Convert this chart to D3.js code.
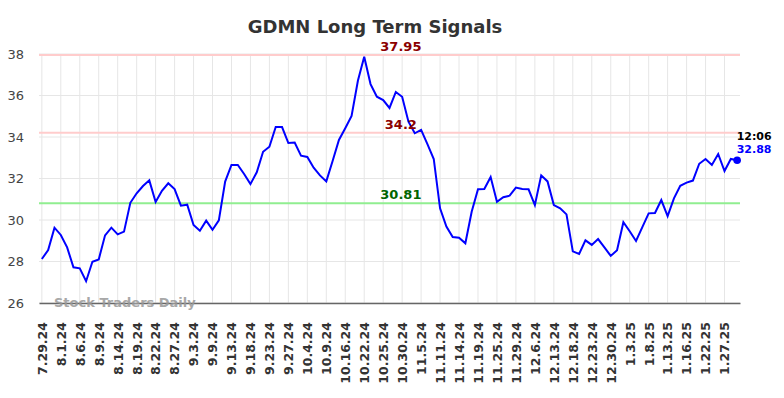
<!DOCTYPE html>
<html>
<head>
<meta charset="utf-8">
<script src="https://cdn.jsdelivr.net/npm/d3@7"></script>
<style>
  body { margin: 0; background: #fff; }
  #chart { width: 784px; height: 398px; }
  text { font-family: "DejaVu Sans", sans-serif; }
</style>
</head>
<body>
<div id="chart"></div>
<script>
// closing prices, one per session
var prices = [28.12, 28.55, 29.63, 29.28, 28.68, 27.72, 27.67, 27.05, 27.99, 28.10,
  29.26, 29.63, 29.31, 29.44, 30.83, 31.29, 31.64, 31.91, 30.87, 31.41,
  31.77, 31.49, 30.69, 30.74, 29.76, 29.48, 29.97, 29.53, 29.98, 31.85,
  32.65, 32.65, 32.22, 31.73, 32.30, 33.29, 33.53, 34.48, 34.48, 33.71,
  33.73, 33.10, 33.04, 32.52, 32.15, 31.86, 32.84, 33.86, 34.42, 35.01,
  36.71, 37.87, 36.55, 35.94, 35.78, 35.40, 36.17, 35.94, 34.74, 34.18,
  34.34, 33.66, 32.94, 30.56, 29.68, 29.18, 29.15, 28.88, 30.40, 31.48,
  31.49, 32.07, 30.88, 31.10, 31.17, 31.56, 31.49, 31.48, 30.72, 32.15,
  31.86, 30.72, 30.56, 30.27, 28.49, 28.36, 29.02, 28.80, 29.08, 28.68,
  28.27, 28.54, 29.89, 29.46, 28.99, 29.66, 30.32, 30.34, 30.96, 30.19,
  31.04, 31.65, 31.80, 31.90, 32.71, 32.94, 32.65, 33.18, 32.36, 32.94,
  32.88];

// a date label on every third session
var tickLabels = ["7.29.24", "8.1.24", "8.6.24", "8.9.24", "8.14.24", "8.19.24",
  "8.22.24", "8.27.24", "9.3.24", "9.9.24", "9.13.24", "9.18.24", "9.23.24",
  "9.27.24", "10.4.24", "10.9.24", "10.16.24", "10.22.24", "10.25.24",
  "10.30.24", "11.5.24", "11.11.24", "11.14.24", "11.19.24", "11.25.24",
  "11.29.24", "12.6.24", "12.13.24", "12.18.24", "12.23.24", "12.30.24",
  "1.3.25", "1.8.25", "1.13.25", "1.16.25", "1.22.25", "1.27.25"];
var tickStep = 3;

var yTicks = [26, 28, 30, 32, 34, 36, 38];

var signalValues = [37.95, 34.2, 30.81];
var signalLabels = ["37.95", "34.2", "30.81"];

var lastTime = "12:06";
var lastPrice = 32.88;

var w = 784, h = 398;
var margin = {top: 54, right: 44, bottom: 95, left: 39},
    width = w - margin.left - margin.right,
    height = h - margin.top - margin.bottom;

var svg = d3.select("#chart")
  .append("svg")
  .attr("width", w)
  .attr("height", h);

var g = svg.append("g")
  .attr("transform", "translate(" + margin.left + "," + margin.top + ")");

var x = d3.scaleLinear()
  .domain([-0.45, prices.length - 1 + 0.45])
  .range([0, width]);

var y = d3.scaleLinear()
  .domain([26, 38])
  .range([height, 0]);

// title
svg.append("text")
  .attr("x", 375)
  .attr("y", 33)
  .attr("text-anchor", "middle")
  .style("font-size", "18px")
  .style("font-weight", "bold")
  .style("fill", "#333")
  .text("GDMN Long Term Signals");

var tickIdx = tickLabels.map(function(d, i) { return i * tickStep; });

// grid
g.selectAll(".vgrid")
  .data(tickIdx)
  .enter()
  .append("line")
    .attr("x1", function(d) { return x(d); })
    .attr("x2", function(d) { return x(d); })
    .attr("y1", 0)
    .attr("y2", height)
    .attr("stroke", "#e6e6e6")
    .attr("stroke-width", 1);

g.selectAll(".hgrid")
  .data(yTicks)
  .enter()
  .append("line")
    .attr("x1", 0)
    .attr("x2", width)
    .attr("y1", function(d) { return y(d); })
    .attr("y2", function(d) { return y(d); })
    .attr("stroke", "#e6e6e6")
    .attr("stroke-width", 1);

// y axis labels
var yAxis = g.append("g")
  .call(d3.axisLeft(y).tickValues(yTicks).tickSize(0).tickPadding(15).tickFormat(d3.format("d")));
yAxis.select(".domain").remove();
yAxis.selectAll("text")
  .style("font-size", "13px")
  .style("fill", "#444");

// x axis
var xAxis = g.append("g")
  .attr("transform", "translate(0," + height + ")")
  .call(d3.axisBottom(x).tickValues(tickIdx).tickSize(0)
    .tickFormat(function(d) { return tickLabels[d / tickStep]; }));
xAxis.select(".domain")
  .attr("stroke", "#666")
  .attr("stroke-width", 1.5);
xAxis.selectAll("text")
  .attr("transform", "translate(0,19)rotate(-90)")
  .attr("x", 0)
  .attr("y", 0)
  .attr("dy", "0.35em")
  .style("text-anchor", "end")
  .style("font-size", "12.5px")
  .style("font-weight", "bold")
  .style("fill", "#333");

// watermark
g.append("text")
  .attr("x", 15)
  .attr("y", height + 4)
  .style("font-size", "13px")
  .style("font-weight", "bold")
  .style("fill", "#999")
  .style("opacity", 0.85)
  .text("Stock Traders Daily");

// signal lines
var signalColors = ["#ffcccc", "#ffcccc", "#90ee90"];
var signalText = ["#8b0000", "#8b0000", "#006400"];
g.selectAll(".signal")
  .data(signalValues)
  .enter()
  .append("line")
    .attr("x1", 0)
    .attr("x2", width)
    .attr("y1", function(d) { return y(d); })
    .attr("y2", function(d) { return y(d); })
    .attr("stroke", function(d, i) { return signalColors[i]; })
    .attr("stroke-width", 2);

// price line
var line = d3.line()
  .x(function(d, i) { return x(i); })
  .y(function(d) { return y(d); });
g.append("path")
  .datum(prices)
  .attr("d", line)
  .attr("fill", "none")
  .attr("stroke", "#0000ff")
  .attr("stroke-width", 2);

g.selectAll(".signal-label")
  .data(signalValues)
  .enter()
  .append("text")
    .attr("x", x(56.8))
    .attr("y", function(d) { return y(d) - 4; })
    .attr("text-anchor", "middle")
    .style("font-size", "13px")
    .style("font-weight", "bold")
    .style("fill", function(d, i) { return signalText[i]; })
    .text(function(d, i) { return signalLabels[i]; });

// last point
var lastI = prices.length - 1;
g.append("circle")
  .attr("cx", x(lastI))
  .attr("cy", y(lastPrice))
  .attr("r", 3.8)
  .attr("fill", "#0000ff");

g.append("text")
  .attr("x", x(lastI) - 0.5)
  .attr("y", y(lastPrice) - 20)
  .style("font-size", "11px")
  .style("font-weight", "bold")
  .style("fill", "#000")
  .text(lastTime);

g.append("text")
  .attr("x", x(lastI) - 0.5)
  .attr("y", y(lastPrice) - 7)
  .style("font-size", "11px")
  .style("font-weight", "bold")
  .style("fill", "#0000ff")
  .text(lastPrice.toFixed(2));
</script>
</body>
</html>
